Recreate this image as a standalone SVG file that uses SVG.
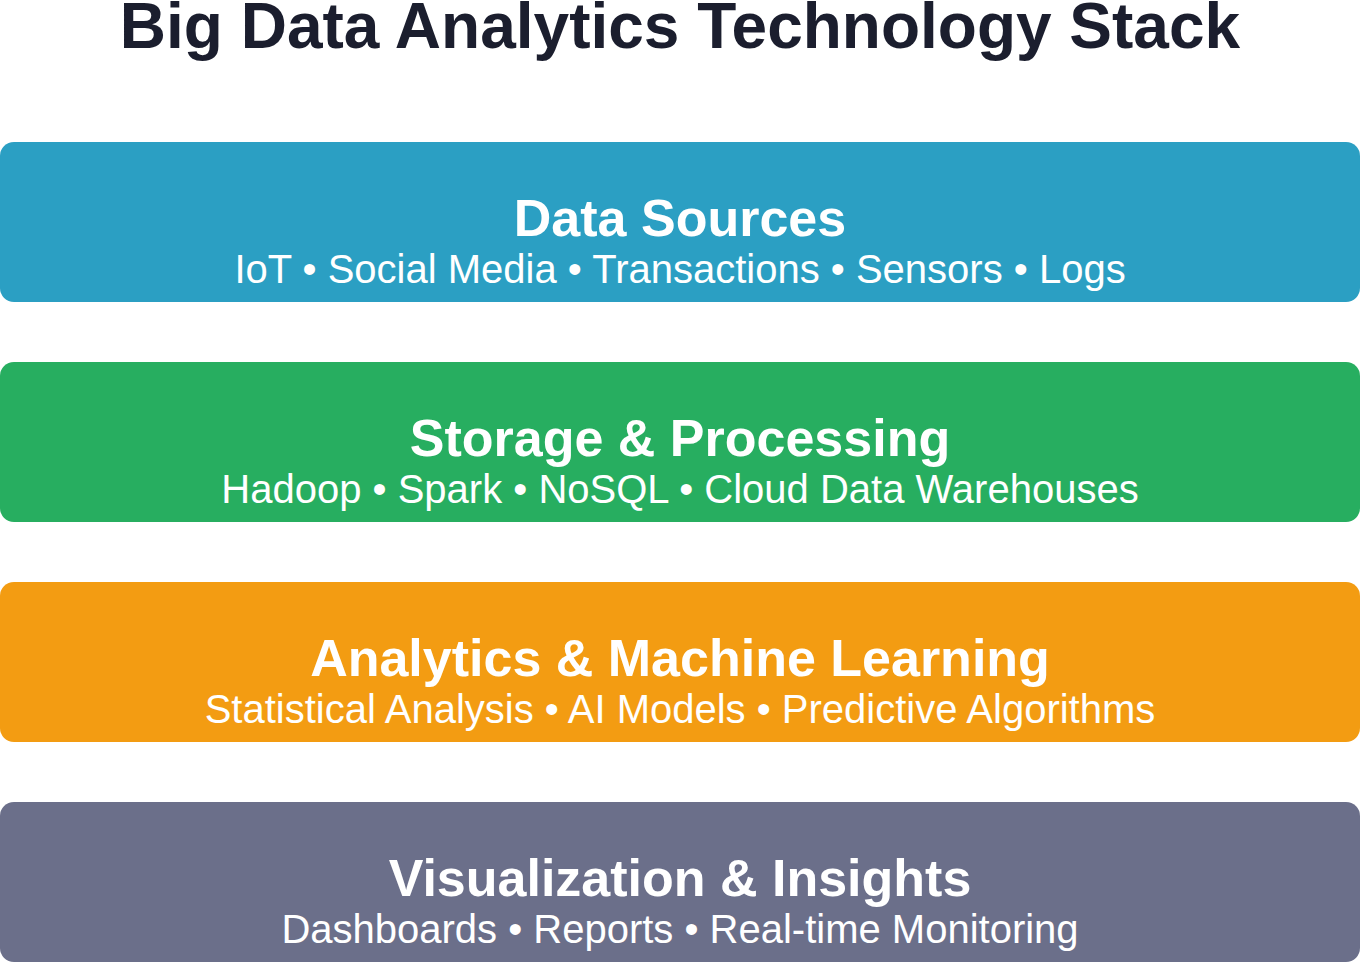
<svg xmlns="http://www.w3.org/2000/svg" width="1360" height="962" viewBox="0 0 1360 962">
<style>
.t{font-family:"Liberation Sans",Arial,sans-serif;font-weight:bold;font-size:64px;fill:#1b1e2e;text-anchor:middle}
.h{font-family:"Liberation Sans",Arial,sans-serif;font-weight:bold;font-size:52px;fill:#ffffff;text-anchor:middle}
.s{font-family:"Liberation Sans",Arial,sans-serif;font-size:40px;fill:#ffffff;text-anchor:middle}
</style>
<rect width="1360" height="962" fill="#ffffff"/>
<text class="t" x="680" y="48">Big Data Analytics Technology Stack</text>
<g id="sources">
<rect x="0" y="142" width="1360" height="160" rx="14" fill="#2b9fc3"/>
<text class="h" x="680" y="236">Data Sources</text>
<text class="s" x="680" y="283">IoT • Social Media • Transactions • Sensors • Logs</text>
</g>
<g id="storage">
<rect x="0" y="362" width="1360" height="160" rx="14" fill="#27ae60"/>
<text class="h" x="680" y="456">Storage &amp; Processing</text>
<text class="s" x="680" y="503">Hadoop • Spark • NoSQL • Cloud Data Warehouses</text>
</g>
<g id="analytics">
<rect x="0" y="582" width="1360" height="160" rx="14" fill="#f39c12"/>
<text class="h" x="680" y="676">Analytics &amp; Machine Learning</text>
<text class="s" x="680" y="723">Statistical Analysis • AI Models • Predictive Algorithms</text>
</g>
<g id="visualization">
<rect x="0" y="802" width="1360" height="160" rx="14" fill="#6b6f8a"/>
<text class="h" x="680" y="896">Visualization &amp; Insights</text>
<text class="s" x="680" y="943">Dashboards • Reports • Real-time Monitoring</text>
</g>
<g id="connectors"></g>
</svg>
